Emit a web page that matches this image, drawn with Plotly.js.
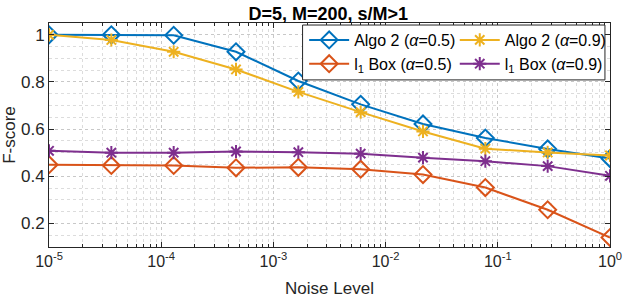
<!DOCTYPE html>
<html>
<head>
<meta charset="utf-8">
<script src="https://cdn.plot.ly/plotly-3.0.1.min.js"></script>
<style>html,body{margin:0;padding:0;background:#fff;}#chart{width:623px;height:298px;}</style>
</head>
<body>
<div id="chart"></div>
<script>
const noiseLevels = [1e-5, 3.594e-5, 1.292e-4, 4.642e-4, 1.668e-3, 5.995e-3, 2.154e-2, 7.743e-2, 0.2783, 1];
const algo2_a05 = [1.0, 1.0, 0.998, 0.928, 0.804, 0.705, 0.622, 0.562, 0.516, 0.475];
const algo2_a09 = [1.0, 0.978, 0.928, 0.853, 0.758, 0.672, 0.590, 0.517, 0.501, 0.488];
const l1box_a05 = [0.449, 0.446, 0.446, 0.436, 0.438, 0.430, 0.407, 0.352, 0.258, 0.140];
const l1box_a09 = [0.508, 0.500, 0.500, 0.505, 0.502, 0.496, 0.479, 0.464, 0.443, 0.402];
const seriesNames = ['Algo 2 (<i>α</i>=0.5)', 'Algo 2 (<i>α</i>=0.9)', 'l<sub>1</sub> Box (<i>α</i>=0.5)', 'l<sub>1</sub> Box (<i>α</i>=0.9)'];
const xTickVals = [1e-5, 1e-4, 1e-3, 1e-2, 1e-1, 1];
const xTickText = ['10<sup>-5</sup>', '10<sup>-4</sup>', '10<sup>-3</sup>', '10<sup>-2</sup>', '10<sup>-1</sup>', '10<sup>0</sup>'];
const yTickVals = [0.2, 0.4, 0.6, 0.8, 1];
const yTickText = ['0.2', '0.4', '0.6', '0.8', '1'];

const colors = ['#0072BD', '#EDB120', '#D95319', '#7E2F8E'];
const ys = [algo2_a05, algo2_a09, l1box_a05, l1box_a09];
const symbols = ['diamond-open', 'asterisk-open', 'diamond-open', 'asterisk-open'];
const sizes = [13, 11, 13, 11];
const legendIds = ['legend', 'legend2', 'legend', 'legend2'];

const traces = ys.map((y, i) => ({
  x: noiseLevels, y: y, name: seriesNames[i], type: 'scatter', mode: 'lines+markers',
  legend: legendIds[i],
  line: {color: colors[i], width: 2},
  marker: {symbol: symbols[i], size: sizes[i], color: colors[i], line: {color: colors[i], width: 2}}
}));

const FONT = 'Liberation Sans, Arial, Helvetica, sans-serif';
const axisCommon = {
  showline: true, linecolor: '#262626', linewidth: 1, mirror: 'allticks',
  ticks: 'inside', ticklen: 5, tickcolor: '#262626',
  showgrid: true, gridcolor: '#c8c8c8', griddash: 'dot', gridwidth: 1,
  zeroline: false
};

const legendCommon = {
  orientation: 'v', xanchor: 'left', yanchor: 'top', y: 1.0,
  bgcolor: 'rgba(0,0,0,0)', borderwidth: 0,
  font: {family: FONT, size: 16, color: '#000'}, itemwidth: 40, tracegroupgap: 0
};

const layout = {
  width: 623, height: 298,
  margin: {l: 49, r: 12, t: 23, b: 51},
  paper_bgcolor: '#fff', plot_bgcolor: '#fff',
  font: {family: FONT, color: '#262626'},
  title: {text: '<b>D=5, M=200, s/M>1</b>', x: 0.527, xanchor: 'center', xref: 'container',
          y: 0.953, yanchor: 'middle', yref: 'container',
          font: {family: FONT, size: 18, color: '#000'}},
  xaxis: Object.assign({}, axisCommon, {
    type: 'log', range: [-5, 0], tickvals: xTickVals, ticktext: xTickText,
    tickfont: {family: FONT, size: 16, color: '#262626'},
    title: {text: 'Noise Level', font: {family: FONT, size: 17, color: '#262626'}, standoff: 12},
    minor: {ticks: 'inside', ticklen: 3, tickcolor: '#262626', showgrid: true, gridcolor: '#dcdcdc', griddash: 'dot', dtick: 'D1'}
  }),
  yaxis: Object.assign({}, axisCommon, {
    range: [0.1, 1.05], tickvals: yTickVals, ticktext: yTickText,
    tickfont: {family: FONT, size: 17, color: '#262626'},
    title: {text: 'F-score', font: {family: FONT, size: 17, color: '#262626'}, standoff: 10},
    minor: {ticks: '', showgrid: true, gridcolor: '#dcdcdc', griddash: 'dot', dtick: 0.05, tick0: 0}
  }),
  showlegend: true,
  legend: Object.assign({}, legendCommon, {x: 0.454}),
  legend2: Object.assign({}, legendCommon, {x: 0.722}),
  shapes: [{
    type: 'rect', xref: 'paper', yref: 'paper', layer: 'above',
    x0: 0.452, x1: 0.991, y0: 0.746, y1: 0.991,
    fillcolor: '#fff', line: {color: '#262626', width: 1}
  }]
};

Plotly.newPlot('chart', traces, layout, {displayModeBar: false, staticPlot: true});
</script>
</body>
</html>
